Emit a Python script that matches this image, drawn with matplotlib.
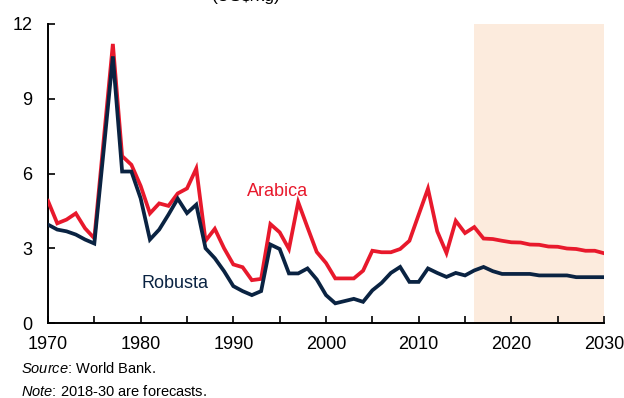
import matplotlib
matplotlib.use('Agg')
import matplotlib.pyplot as plt

plt.rcParams['font.family'] = ['Liberation Sans', 'DejaVu Sans']
plt.rcParams['mathtext.fontset'] = 'custom'
plt.rcParams['mathtext.rm'] = 'Liberation Sans'
plt.rcParams['mathtext.it'] = 'Liberation Sans:italic'

RED = '#E8192C'
NAVY = '#0A2342'
SHADE = '#FCEBDD'

years = list(range(1970, 2031))

# real prices, US$/kg
arabica = [4.9, 4.0, 4.15, 4.4, 3.8, 3.4, 7.3, 11.2, 6.7, 6.35,
           5.5, 4.4, 4.8, 4.7, 5.2, 5.4, 6.2, 3.3, 3.78, 3.0,
           2.35, 2.24, 1.72, 1.77, 3.97, 3.64, 2.97, 4.85, 3.84, 2.85,
           2.41, 1.79, 1.79, 1.79, 2.1, 2.9, 2.84, 2.84, 2.97, 3.3,
           4.35, 5.39, 3.68, 2.81, 4.1, 3.61, 3.85, 3.39, 3.37, 3.3,
           3.24, 3.23, 3.15, 3.14, 3.07, 3.06, 2.99, 2.97, 2.9, 2.9, 2.8]
robusta = [3.95, 3.75, 3.68, 3.55, 3.35, 3.19, 6.9, 10.7, 6.08, 6.08,
           5.0, 3.35, 3.75, 4.35, 4.99, 4.41, 4.75, 3.0, 2.6, 2.08,
           1.48, 1.28, 1.12, 1.28, 3.15, 2.97, 1.99, 1.99, 2.19, 1.75,
           1.12, 0.79, 0.88, 0.97, 0.85, 1.31, 1.61, 2.01, 2.25, 1.65,
           1.65, 2.19, 2.01, 1.85, 2.01, 1.91, 2.11, 2.25, 2.08, 1.97,
           1.97, 1.97, 1.97, 1.91, 1.91, 1.91, 1.91, 1.84, 1.84, 1.84, 1.84]

forecast_span = (2016, 2030)
major_years = list(range(1970, 2031, 10))
minor_years = list(range(1975, 2030, 10))
y_ticks = [0, 3, 6, 9, 12]

fig = plt.figure(figsize=(6.24, 3.98), dpi=100)
ax = fig.add_axes([0.0769, 0.1884, 0.8911, 0.7513])

ax.axvspan(*forecast_span, color=SHADE, lw=0, zorder=0)
ax.plot(years, arabica, color=RED, lw=2.7, solid_joinstyle='miter', zorder=3)
ax.plot(years, robusta, color=NAVY, lw=2.7, solid_joinstyle='miter', zorder=3)

ax.text(1994.8, 5.08, 'Arabica', color=RED, fontsize=13, ha='center', va='baseline')
ax.text(1983.7, 1.41, 'Robusta', color=NAVY, fontsize=13, ha='center', va='baseline')

ax.set_xlim(1970, 2030)
ax.set_ylim(0, 12)
ax.set_xticks(major_years)
ax.set_xticks(minor_years, minor=True)
ax.set_yticks(y_ticks)
ax.tick_params(which='both', direction='in', length=5, width=1.2, labelsize=13)
ax.tick_params(axis='x', pad=9)
ax.tick_params(axis='y', pad=11)

for side in ['top', 'right']:
    ax.spines[side].set_visible(False)
for side in ['left', 'bottom']:
    ax.spines[side].set_linewidth(1.4)

# unit line of the heading, mostly above the top edge
fig.text(0.395, 1 - 1 / 398, '(US$/kg)', fontsize=12.5, ha='center', va='baseline')

fig.text(0.033, (398 - 373.3) / 398, r'$\it{Source}$: World Bank.', fontsize=10.5, va='baseline')
fig.text(0.033, (398 - 395.5) / 398, r'$\it{Note}$: 2018-30 are forecasts.', fontsize=10.5, va='baseline')

fig.savefig('out.png', dpi=100)
